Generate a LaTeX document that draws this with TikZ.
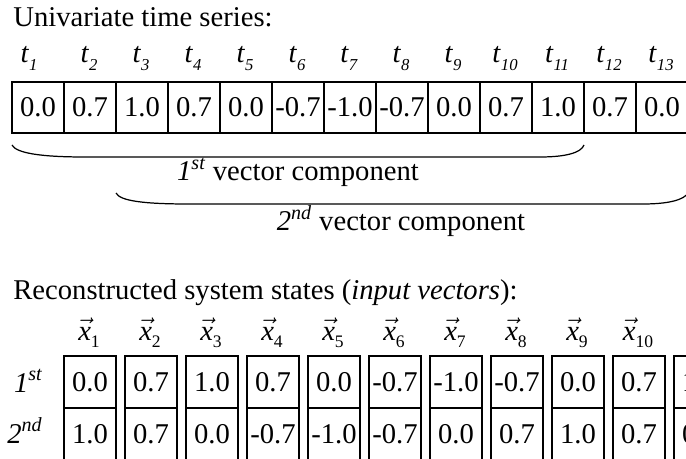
\documentclass[tikz,border=0pt]{standalone}
\usepackage{fontspec}
\setmainfont{Liberation Serif}
\tikzset{
	cell/.style={draw, line width=0.7pt, minimum width=1.04cm, minimum height=1.02cm, inner sep=0pt},
	statecell/.style={cell, minimum height=1.04cm},
	brace/.style={line width=0.7pt},
	txt/.style={inner sep=0pt}
}
\begin{document}
\begin{tikzpicture}[x=0.02cm, y=-0.02cm, font=\fontsize{16.3}{19.5}\selectfont]
		\useasboundingbox (0,0) rectangle (686,459);
		\clip (0,0) rectangle (686,459);
		\node[txt, anchor=base west] (title1) at (13,27){Univariate time series:};
		\foreach \v [count=\i] in {0.0,0.7,1.0,0.7,0.0,-0.7,-1.0,-0.7,0.0,0.7,1.0,0.7,0.0}
		\node[cell] (t\i) at (38+52*\i-52, 107.5){\v};
		\node[txt, anchor=base] (lt1) at (29,63){\textit{t}\raisebox{-4.5pt}{\fontsize{9.5}{9.5}\selectfont\textit{1}}};
		\foreach \i in {2,...,13}
		\node[txt, anchor=base] (lt\i) at (37+52*\i-52, 63){\textit{t}\raisebox{-4.5pt}{\fontsize{9.5}{9.5}\selectfont\textit{\i}}};
		\draw[brace] (12,145) .. controls (16,153) and (40,157) .. (85,157) -- (540,157) .. controls (565,157) and (581,153) .. (584,145);
		\draw[brace] (116,193) .. controls (120,201) and (144,204) .. (189,204) -- (643,204) .. controls (668,204) and (684,200) .. (688,193);
		\node[txt, anchor=base] (comp1) at (298,181){\textit{1\textsuperscript{st}} vector component};
		\node[txt, anchor=base] (comp2) at (401,231){\textit{2\textsuperscript{nd}} vector component};
		\node[txt, anchor=base west] (title2) at (13,299){Reconstructed system states (\textit{input vectors}):};
		\foreach \a/\b [count=\i] in {0.0/1.0, 0.7/0.7, 1.0/0.0, 0.7/-0.7, 0.0/-1.0, -0.7/-0.7, -1.0/0.0, -0.7/0.7, 0.0/1.0, 0.7/0.7, 1.0/0.0}{
			\node[statecell] (a\i) at (90+61*\i-61, 382){\a};
			\node[statecell] (b\i) at (90+61*\i-61, 434){\b};
		}
		\foreach \i in {1,...,10}
		\node[txt, anchor=base] (x\i) at (89+61*\i-61, 340){$\vec{\mbox{\textit{x}}}$\raisebox{-4pt}{\fontsize{10}{10}\selectfont\i}};
		\node[txt, anchor=base east] (row1) at (43,392){\textit{1\textsuperscript{st}}};
		\node[txt, anchor=base east] (row2) at (43,443){\textit{2\textsuperscript{nd}}};
	\end{tikzpicture}
\end{document}
